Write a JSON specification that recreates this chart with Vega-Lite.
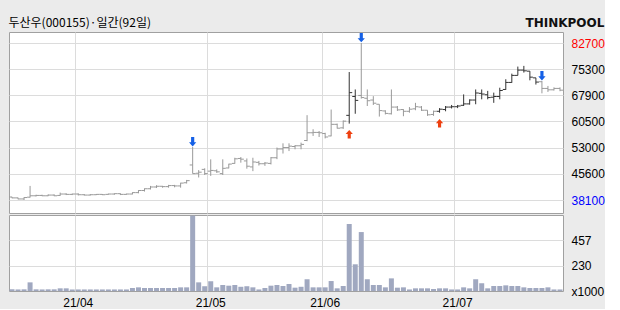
{
  "$schema": "https://vega.github.io/schema/vega-lite/v6.json",
  "background": "#ebebeb",
  "padding": {"left": 8, "top": 16, "right": 0, "bottom": 0},
  "spacing": 0,
  "title": {"text": "두산우(000155)·일간(92일)", "anchor": "start", "font": "Noto Sans CJK KR", "fontSize": 12, "fontWeight": "normal", "color": "#000000", "offset": -13},
  "datasets": {
    "p": [
      {"d":"2021-03-17","o":38950,"h":39000,"l":38600,"c":38700,"v":15,"s":"n"},
      {"d":"2021-03-18","o":38700,"h":38800,"l":38300,"c":38400,"v":14,"s":"n"},
      {"d":"2021-03-19","o":38400,"h":38900,"l":38100,"c":38800,"v":15,"s":"n"},
      {"d":"2021-03-22","o":38900,"h":42100,"l":38800,"c":39300,"v":78,"s":"n"},
      {"d":"2021-03-23","o":39300,"h":39600,"l":39100,"c":39400,"v":15,"s":"n"},
      {"d":"2021-03-24","o":39400,"h":39600,"l":39200,"c":39300,"v":14,"s":"n"},
      {"d":"2021-03-25","o":39300,"h":39700,"l":39200,"c":39500,"v":15,"s":"n"},
      {"d":"2021-03-26","o":39500,"h":39700,"l":39200,"c":39300,"v":15,"s":"n"},
      {"d":"2021-03-29","o":39400,"h":40200,"l":39300,"c":39800,"v":24,"s":"n"},
      {"d":"2021-03-30","o":39800,"h":40000,"l":39500,"c":39700,"v":24,"s":"n"},
      {"d":"2021-03-31","o":39700,"h":39900,"l":39500,"c":39800,"v":14,"s":"n"},
      {"d":"2021-04-01","o":39800,"h":40000,"l":39400,"c":39600,"v":14,"s":"n"},
      {"d":"2021-04-02","o":39600,"h":39800,"l":39400,"c":39500,"v":14,"s":"n"},
      {"d":"2021-04-05","o":39500,"h":39800,"l":39400,"c":39600,"v":14,"s":"n"},
      {"d":"2021-04-06","o":39600,"h":39800,"l":39500,"c":39700,"v":14,"s":"n"},
      {"d":"2021-04-07","o":39700,"h":39800,"l":39500,"c":39600,"v":14,"s":"n"},
      {"d":"2021-04-08","o":39700,"h":39900,"l":39600,"c":39800,"v":14,"s":"n"},
      {"d":"2021-04-09","o":39800,"h":40000,"l":39600,"c":39900,"v":14,"s":"n"},
      {"d":"2021-04-12","o":39900,"h":40000,"l":39500,"c":39700,"v":14,"s":"n"},
      {"d":"2021-04-13","o":39700,"h":39900,"l":39600,"c":39800,"v":14,"s":"n"},
      {"d":"2021-04-14","o":39800,"h":40300,"l":39700,"c":40200,"v":27,"s":"n"},
      {"d":"2021-04-15","o":40200,"h":40900,"l":40000,"c":40800,"v":33,"s":"n"},
      {"d":"2021-04-16","o":40800,"h":41400,"l":40500,"c":41300,"v":27,"s":"n"},
      {"d":"2021-04-19","o":41300,"h":42100,"l":41100,"c":41800,"v":27,"s":"n"},
      {"d":"2021-04-20","o":41800,"h":42300,"l":41500,"c":42000,"v":27,"s":"n"},
      {"d":"2021-04-21","o":42000,"h":42100,"l":41600,"c":41900,"v":27,"s":"n"},
      {"d":"2021-04-22","o":41900,"h":42400,"l":41600,"c":42200,"v":27,"s":"n"},
      {"d":"2021-04-23","o":42200,"h":42400,"l":41700,"c":42100,"v":27,"s":"n"},
      {"d":"2021-04-26","o":42100,"h":43000,"l":41600,"c":42900,"v":33,"s":"n"},
      {"d":"2021-04-27","o":43000,"h":43800,"l":42800,"c":43600,"v":33,"s":"n"},
      {"d":"2021-04-28","o":48050,"h":53150,"l":45600,"c":45600,"v":680,"s":"n","g":"sell"},
      {"d":"2021-04-29","o":45700,"h":46600,"l":44500,"c":46000,"v":78,"s":"n"},
      {"d":"2021-04-30","o":46800,"h":47100,"l":45200,"c":45600,"v":43,"s":"n"},
      {"d":"2021-05-03","o":46300,"h":49650,"l":44950,"c":46500,"v":88,"s":"n"},
      {"d":"2021-05-04","o":46400,"h":46800,"l":45800,"c":46100,"v":33,"s":"n"},
      {"d":"2021-05-06","o":45600,"h":49650,"l":45200,"c":47100,"v":54,"s":"n"},
      {"d":"2021-05-07","o":47200,"h":48400,"l":47100,"c":48300,"v":48,"s":"n"},
      {"d":"2021-05-10","o":48500,"h":50100,"l":48400,"c":49800,"v":54,"s":"n"},
      {"d":"2021-05-11","o":49900,"h":50300,"l":48700,"c":49700,"v":38,"s":"n"},
      {"d":"2021-05-12","o":49200,"h":49900,"l":47000,"c":47700,"v":43,"s":"n"},
      {"d":"2021-05-13","o":47500,"h":50100,"l":46300,"c":48900,"v":33,"s":"n"},
      {"d":"2021-05-14","o":48800,"h":49200,"l":47900,"c":48400,"v":14,"s":"n"},
      {"d":"2021-05-17","o":48400,"h":48900,"l":47800,"c":48600,"v":27,"s":"n"},
      {"d":"2021-05-18","o":48500,"h":50300,"l":48200,"c":50100,"v":48,"s":"n"},
      {"d":"2021-05-20","o":50100,"h":53000,"l":49700,"c":52600,"v":54,"s":"n"},
      {"d":"2021-05-21","o":52600,"h":54200,"l":51300,"c":53000,"v":45,"s":"n"},
      {"d":"2021-05-24","o":53000,"h":54200,"l":52000,"c":53400,"v":63,"s":"n"},
      {"d":"2021-05-25","o":53300,"h":53700,"l":52500,"c":53500,"v":30,"s":"n"},
      {"d":"2021-05-26","o":53500,"h":54400,"l":52500,"c":53900,"v":38,"s":"n"},
      {"d":"2021-05-27","o":55000,"h":62200,"l":54800,"c":57200,"v":106,"s":"n"},
      {"d":"2021-05-28","o":57200,"h":58200,"l":56300,"c":57300,"v":33,"s":"n"},
      {"d":"2021-05-31","o":57300,"h":57700,"l":56000,"c":57200,"v":33,"s":"n"},
      {"d":"2021-06-01","o":57000,"h":57200,"l":55600,"c":56000,"v":33,"s":"n"},
      {"d":"2021-06-02","o":56300,"h":63800,"l":56200,"c":59600,"v":90,"s":"n"},
      {"d":"2021-06-03","o":59600,"h":59800,"l":58400,"c":58500,"v":24,"s":"n"},
      {"d":"2021-06-04","o":58600,"h":60700,"l":58300,"c":60500,"v":45,"s":"n"},
      {"d":"2021-06-07","o":62150,"h":74450,"l":59800,"c":68600,"v":605,"s":"h","g":"buy"},
      {"d":"2021-06-08","o":67500,"h":69500,"l":62600,"c":66400,"v":241,"s":"h"},
      {"d":"2021-06-09","o":67800,"h":82700,"l":66900,"c":67200,"v":532,"s":"n","g":"sell"},
      {"d":"2021-06-10","o":67000,"h":69500,"l":64800,"c":66300,"v":106,"s":"n"},
      {"d":"2021-06-11","o":66500,"h":67600,"l":65100,"c":65600,"v":54,"s":"n"},
      {"d":"2021-06-14","o":65300,"h":65300,"l":61800,"c":63500,"v":54,"s":"n"},
      {"d":"2021-06-15","o":63400,"h":63600,"l":62400,"c":62700,"v":33,"s":"n"},
      {"d":"2021-06-16","o":62600,"h":69500,"l":62400,"c":64500,"v":114,"s":"n"},
      {"d":"2021-06-17","o":64500,"h":64800,"l":63400,"c":63700,"v":30,"s":"n"},
      {"d":"2021-06-18","o":63800,"h":63900,"l":61900,"c":63300,"v":33,"s":"n"},
      {"d":"2021-06-21","o":63300,"h":64500,"l":62900,"c":63900,"v":14,"s":"n"},
      {"d":"2021-06-22","o":64000,"h":65700,"l":63600,"c":64600,"v":24,"s":"n"},
      {"d":"2021-06-23","o":64500,"h":64800,"l":63400,"c":63600,"v":24,"s":"n"},
      {"d":"2021-06-24","o":63600,"h":63600,"l":62000,"c":62300,"v":24,"s":"n"},
      {"d":"2021-06-25","o":62400,"h":63500,"l":62000,"c":63300,"v":18,"s":"n"},
      {"d":"2021-06-28","o":63300,"h":64200,"l":62900,"c":63900,"v":24,"s":"h","g":"buy"},
      {"d":"2021-06-29","o":63800,"h":64800,"l":63300,"c":64500,"v":24,"s":"h"},
      {"d":"2021-06-30","o":64500,"h":65100,"l":64100,"c":64600,"v":14,"s":"h"},
      {"d":"2021-07-01","o":64600,"h":65100,"l":64200,"c":64800,"v":14,"s":"h"},
      {"d":"2021-07-02","o":65000,"h":68100,"l":64800,"c":65400,"v":33,"s":"h"},
      {"d":"2021-07-05","o":65400,"h":66700,"l":65200,"c":66500,"v":24,"s":"h"},
      {"d":"2021-07-06","o":66500,"h":69500,"l":65300,"c":68500,"v":106,"s":"h"},
      {"d":"2021-07-07","o":68400,"h":69500,"l":66700,"c":68200,"v":70,"s":"h"},
      {"d":"2021-07-08","o":68000,"h":69100,"l":66700,"c":67200,"v":24,"s":"h"},
      {"d":"2021-07-09","o":67300,"h":68600,"l":65700,"c":67500,"v":45,"s":"h"},
      {"d":"2021-07-12","o":67500,"h":70000,"l":66700,"c":69200,"v":45,"s":"h"},
      {"d":"2021-07-13","o":69500,"h":72400,"l":69400,"c":71500,"v":51,"s":"h"},
      {"d":"2021-07-14","o":71500,"h":74000,"l":71400,"c":73500,"v":45,"s":"h"},
      {"d":"2021-07-15","o":73500,"h":76000,"l":73500,"c":75000,"v":45,"s":"h"},
      {"d":"2021-07-16","o":75000,"h":76200,"l":74300,"c":74800,"v":33,"s":"h"},
      {"d":"2021-07-19","o":74700,"h":74700,"l":72100,"c":73000,"v":27,"s":"h"},
      {"d":"2021-07-20","o":72800,"h":72800,"l":70900,"c":71600,"v":27,"s":"h"},
      {"d":"2021-07-21","o":71700,"h":71900,"l":68400,"c":69800,"v":27,"s":"n","g":"sell"},
      {"d":"2021-07-22","o":69800,"h":70500,"l":68800,"c":69400,"v":33,"s":"n"},
      {"d":"2021-07-23","o":69400,"h":70100,"l":69200,"c":69800,"v":14,"s":"n"},
      {"d":"2021-07-26","o":69800,"h":70100,"l":69000,"c":69300,"v":14,"s":"n"}
    ]
  },
  "vconcat": [
    {
      "width": 554,
      "height": 181,
      "data": {"name": "p"},
      "title": {"text": "THINKPOOL", "anchor": "end", "font": "DejaVu Sans", "fontSize": 12, "fontWeight": "bold", "color": "#111111", "offset": 2},
      "encoding": {
        "x": {"field": "d", "type": "ordinal", "scale": {"type": "band", "paddingInner": 0, "paddingOuter": 0},
              "axis": {"values": ["2021-04-01", "2021-05-03", "2021-06-01", "2021-07-01"], "bandPosition": 0, "labels": false, "ticks": false, "domain": false, "title": null, "grid": true}}
      },
      "layer": [
        {
          "mark": {"type": "rule", "strokeWidth": 1},
          "encoding": {
            "y": {"field": "l", "type": "quantitative", "scale": {"domain": [34407, 85825], "nice": false, "zero": false},
                  "axis": {"orient": "right", "title": null, "values": [38100, 45600, 53000, 60500, 67900, 75300, 82700], "tickCount": 20, "grid": true, "format": "d", "labelOverlap": false, "labelBound": false,
                           "labelColor": {"condition": [{"test": "datum.value == 82700", "value": "#ff0000"}, {"test": "datum.value == 38100", "value": "#0000ff"}], "value": "#000000"}}},
            "y2": {"field": "h"},
            "color": {"field": "s", "type": "nominal", "scale": {"domain": ["n", "h"], "range": ["#999999", "#333333"]}, "legend": null}
          }
        },
        {
          "mark": {"type": "tick", "orient": "horizontal", "size": 3, "thickness": 1, "xOffset": -1.5, "opacity": 1},
          "encoding": {
            "y": {"field": "o", "type": "quantitative"},
            "color": {"field": "s", "type": "nominal", "legend": null}
          }
        },
        {
          "mark": {"type": "tick", "orient": "horizontal", "size": 3, "thickness": 1, "xOffset": 1.5, "opacity": 1},
          "encoding": {
            "y": {"field": "c", "type": "quantitative"},
            "color": {"field": "s", "type": "nominal", "legend": null}
          }
        },
        {
          "transform": [{"filter": "datum.g === 'sell'"}],
          "mark": {"type": "point", "filled": true, "size": 40, "strokeWidth": 0, "opacity": 1, "color": "#1560e6",
                   "shape": "M0,-0.2 L1.15,-1.5 L0.5,-1.5 L0.5,-3.2 L-0.5,-3.2 L-0.5,-1.5 L-1.15,-1.5 Z"},
          "encoding": {"y": {"field": "h", "type": "quantitative"}}
        },
        {
          "transform": [{"filter": "datum.g === 'buy'"}],
          "mark": {"type": "point", "filled": true, "size": 40, "strokeWidth": 0, "opacity": 1, "color": "#ee4010",
                   "shape": "M0,2.0 L1.15,3.3 L0.5,3.3 L0.5,4.7 L-0.5,4.7 L-0.5,3.3 L-1.15,3.3 Z"},
          "encoding": {"y": {"field": "l", "type": "quantitative"}}
        }
      ]
    },
    {
      "width": 554,
      "height": 76,
      "data": {"name": "p"},
      "mark": {"type": "bar", "color": "#a0a8c0", "width": {"band": 0.83}},
      "encoding": {
        "x": {"field": "d", "type": "ordinal", "scale": {"type": "band", "paddingInner": 0, "paddingOuter": 0},
              "axis": {"values": ["2021-04-01", "2021-05-03", "2021-06-01", "2021-07-01"], "bandPosition": 0, "labelAngle": 0, "ticks": false, "domain": false, "title": null, "grid": true, "labelPadding": 6,
                       "labelExpr": "substring(datum.value, 2, 4) + '/' + substring(datum.value, 5, 7)"}},
        "y": {"field": "v", "type": "quantitative", "scale": {"domain": [0, 686], "nice": false},
              "axis": {"orient": "right", "title": null, "values": [0, 230, 457], "tickCount": 20, "grid": true, "format": "d", "labelOverlap": false, "labelBound": false,
                       "labelExpr": "datum.value == 0 ? 'x1000' : datum.label",
                       "gridColor": {"condition": {"test": "datum.value == 0", "value": "transparent"}, "value": "#dcdcdc"}}}
      }
    }
  ],
  "config": {
    "view": {"stroke": "#a0a0a0", "fill": "#ffffff"},
    "axis": {"labelFont": "Liberation Sans", "labelFontSize": 12, "labelColor": "#000000", "gridColor": "#dcdcdc", "gridWidth": 1, "labelPadding": 8, "ticks": false, "domain": false}
  }
}
